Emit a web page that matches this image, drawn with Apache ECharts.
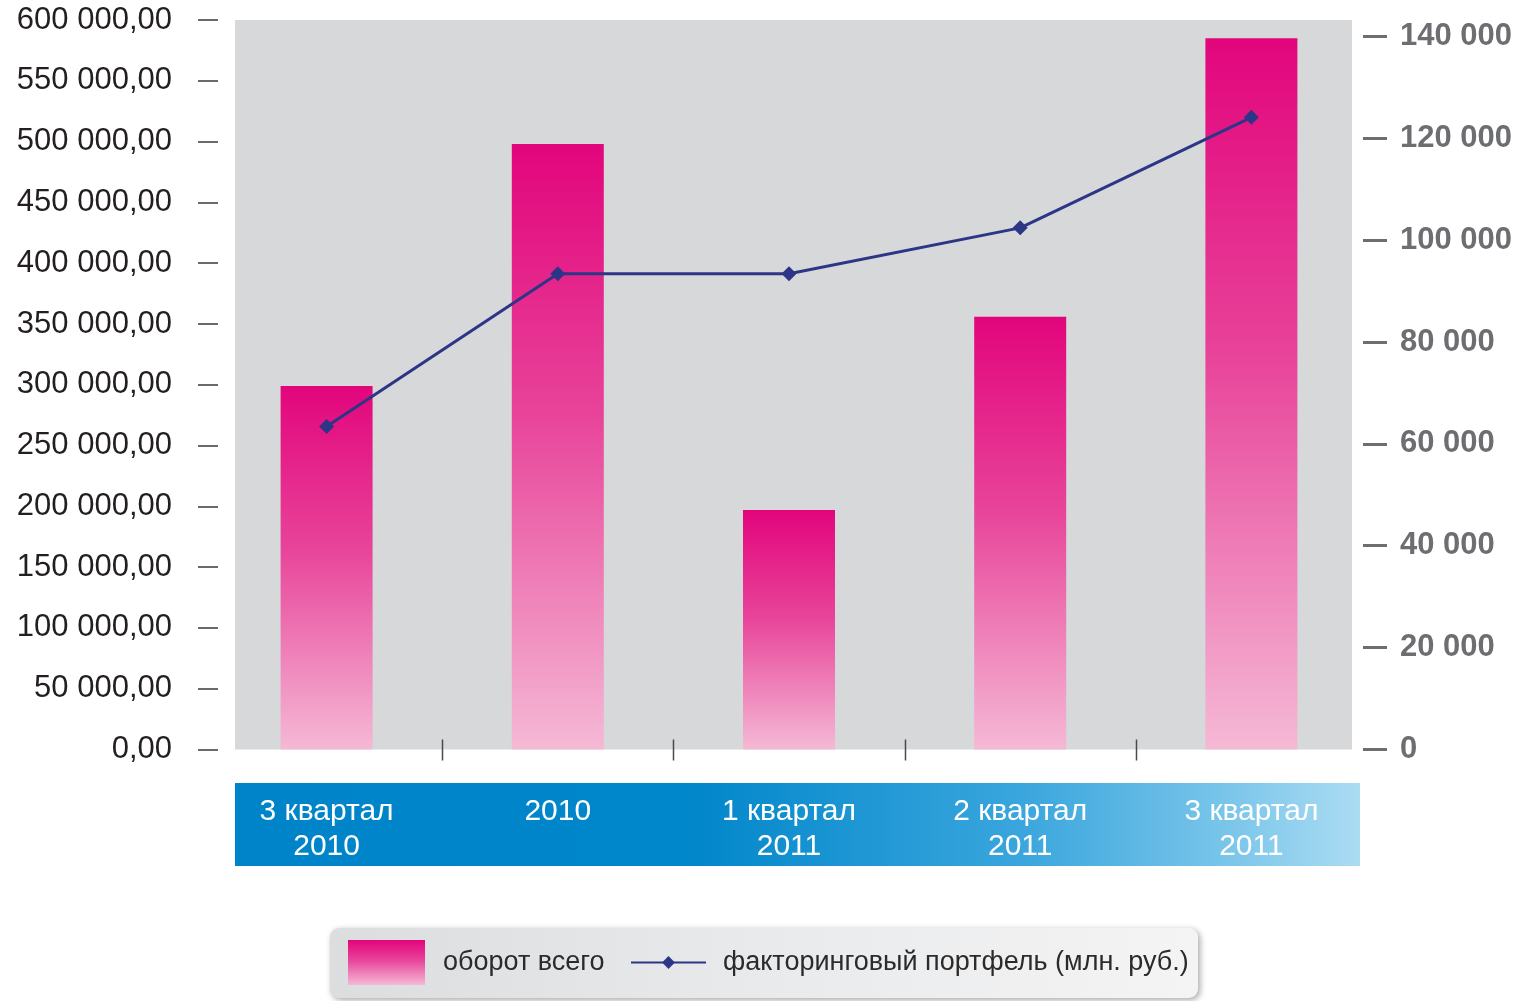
<!DOCTYPE html>
<html>
<head>
<meta charset="utf-8">
<style>
  html, body { margin: 0; padding: 0; background: #ffffff; }
  #chart { width: 1520px; height: 1001px; }
</style>
<script src="https://cdn.jsdelivr.net/npm/echarts@6/dist/echarts.min.js"></script>
</head>
<body>
<div id="chart"></div>
<script>
// Quarterly turnover and factoring portfolio
const categories = ['3 квартал\n2010', '2010', '1 квартал\n2011', '2 квартал\n2011', '3 квартал\n2011'];
const turnover = [299000, 498000, 197000, 356000, 585000];      // оборот всего
const portfolio = [63400, 93400, 93400, 102400, 124100];         // факторинговый портфель, млн. руб.
const leftTicks = [0, 50000, 100000, 150000, 200000, 250000, 300000, 350000, 400000, 450000, 500000, 550000, 600000];
const rightTicks = [0, 20000, 40000, 60000, 80000, 100000, 120000, 140000];
const boundaryIdx = [0, 1, 2, 3];   // category separators after each of these

const FONT = '"Liberation Sans", Arial, sans-serif';

function groupDigits(v) {
  return String(Math.round(v)).replace(/\B(?=(\d{3})+(?!\d))/g, ' ');
}

const chart = echarts.init(document.getElementById('chart'), null, { renderer: 'canvas' });

const barGradient = new echarts.graphic.LinearGradient(0, 0, 0, 1, [
  { offset: 0, color: '#e2057c' },
  { offset: 0.45, color: '#e8449a' },
  { offset: 1, color: '#f5b9d5' }
]);

const option = {
  backgroundColor: '#ffffff',
  animation: false,
  grid: { left: 211, right: 153, top: 20, bottom: 251.5, containLabel: false },
  graphic: [
    {
      type: 'rect', z: -10, silent: true,
      shape: { x: 235, y: 20, width: 1117, height: 729.5 },
      style: { fill: '#d6d8da' }
    },
    {
      type: 'rect', z: -10, silent: true,
      shape: { x: 235, y: 783, width: 1125, height: 83 },
      style: {
        fill: new echarts.graphic.LinearGradient(0, 0, 1, 0, [
          { offset: 0, color: '#0084c9' },
          { offset: 0.4, color: '#0086ca' },
          { offset: 0.7, color: '#3aa6dd' },
          { offset: 0.88, color: '#79c5ea' },
          { offset: 1, color: '#abdcf2' }
        ])
      }
    },
    {
      type: 'rect', z: -10, silent: true,
      shape: { x: 330, y: 928, width: 868, height: 70, r: 9 },
      style: {
        fill: new echarts.graphic.LinearGradient(0, 0, 1, 0, [
          { offset: 0, color: '#dcddde' },
          { offset: 0.5, color: '#e9eaeb' },
          { offset: 1, color: '#f4f4f5' }
        ]),
        shadowColor: 'rgba(0,0,0,0.35)', shadowBlur: 6, shadowOffsetX: 2, shadowOffsetY: 2
      }
    }
  ],
  legend: [
    {
      data: [{ name: 'оборот всего', icon: 'rect' }],
      left: 348, top: 940, padding: 0,
      itemWidth: 77, itemHeight: 45,
      textStyle: { fontFamily: FONT, fontSize: 27, color: '#2b2b2b', padding: [4, 0, 0, 13] },
      selectedMode: false
    },
    {
      data: ['факторинговый портфель (млн. руб.)'],
      left: 630, top: 949, padding: 0,
      itemWidth: 75, itemHeight: 16,
      textStyle: { fontFamily: FONT, fontSize: 27, color: '#2b2b2b', padding: [0, 0, 0, 12] },
      selectedMode: false
    }
  ],
  xAxis: {
    type: 'category',
    data: categories,
    boundaryGap: true,
    axisLine: { show: false },
    axisTick: { show: false },
    axisLabel: {
      color: '#ffffff', fontFamily: FONT, fontSize: 30, lineHeight: 35,
      verticalAlign: 'top', margin: 45, interval: 0
    },
    splitLine: { show: false }
  },
  yAxis: [
    {
      type: 'value', min: 0, max: 600000, interval: 50000,
      offset: -7,
      axisLine: { show: false },
      axisTick: { show: true, length: 20, lineStyle: { color: '#3a3a3a', width: 1.5 } },
      splitLine: { show: false },
      axisLabel: {
        margin: 46, color: '#231f20', fontFamily: FONT, fontSize: 31,
        formatter: v => groupDigits(v) + ',00'
      }
    },
    {
      type: 'value', min: 0, max: 143200, position: 'right',
      offset: -4,
      axisLine: { show: false },
      axisTick: { show: true, length: 24, customValues: rightTicks, lineStyle: { color: '#6d6e71', width: 3 } },
      splitLine: { show: false },
      axisLabel: {
        customValues: rightTicks,
        margin: 37, color: '#6d6e71', fontFamily: FONT, fontSize: 31, fontWeight: 'bold',
        formatter: v => groupDigits(v)
      }
    }
  ],
  series: [
    {
      name: 'оборот всего',
      type: 'bar',
      yAxisIndex: 0,
      barWidth: 92,
      data: turnover,
      itemStyle: { color: barGradient },
      z: 2
    },
    {
      name: 'факторинговый портфель (млн. руб.)',
      type: 'line',
      yAxisIndex: 1,
      data: portfolio,
      symbol: 'diamond',
      symbolSize: 15,
      color: '#2d3686',
      lineStyle: { color: '#2d3686', width: 3 },
      itemStyle: { color: '#2d3686' },
      z: 4
    },
    {
      // short separators between categories, straddling the baseline
      type: 'custom',
      yAxisIndex: 0,
      data: boundaryIdx.map(i => [i, 0]),
      silent: true,
      z: 3,
      renderItem: function (params, api) {
        const p = api.coord([api.value(0), 0]);
        const band = api.size([1, 0])[0];
        const x = Math.round(p[0] + band / 2) + 0.5;
        return {
          type: 'line',
          shape: { x1: x, y1: p[1] - 10, x2: x, y2: p[1] + 11 },
          style: { stroke: '#4a4a4a', lineWidth: 1.5 }
        };
      }
    }
  ]
};

chart.setOption(option);
</script>
</body>
</html>
